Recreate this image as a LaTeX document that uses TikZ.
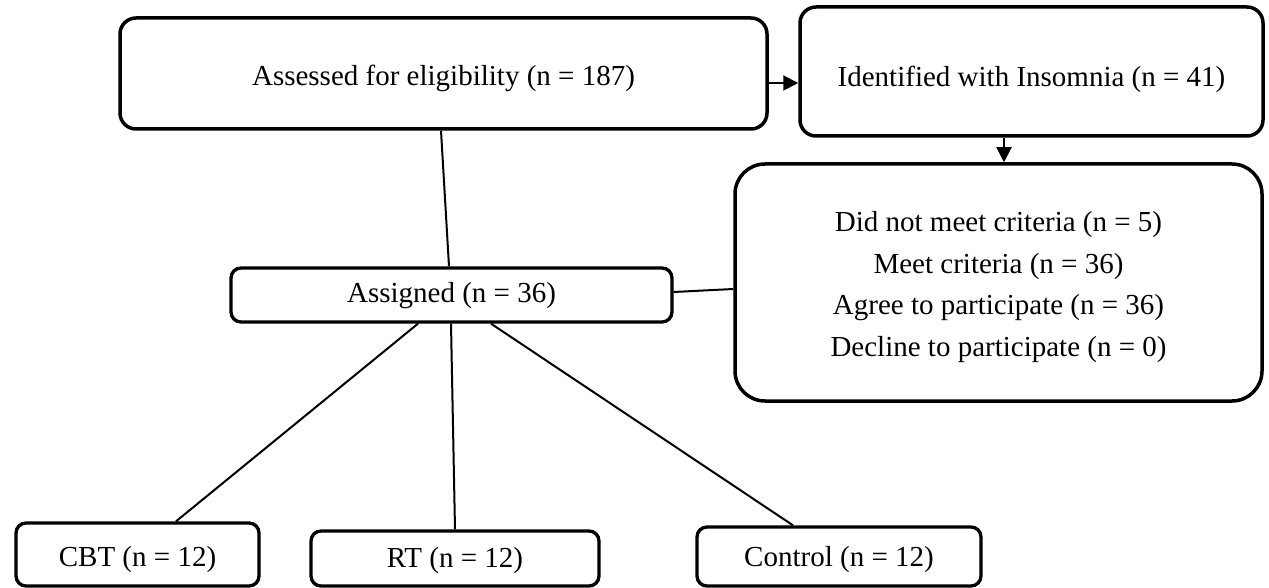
\documentclass[tikz,border=0pt]{standalone}
\usepackage{fontspec}
\setmainfont{Liberation Serif}
\usetikzlibrary{arrows.meta,calc}
\newcommand{\lowr}[2]{\raisebox{-#1}[\height][\depth]{#2}}
\begin{document}
\begin{tikzpicture}[x=1pt,y=-1pt,
  box/.style={draw, line width=3.5pt, rounded corners=16pt, inner sep=0pt, align=center,
    font=\fontsize{29}{41.5}\selectfont},
  smallbox/.style={box, line width=3.3pt, rounded corners=10pt},
  conn/.style={line width=2pt},
  arr/.style={line width=2pt, -{Triangle[length=15pt,width=15pt]}}]
\useasboundingbox (0,0) rectangle (1269,588);
\node[box, minimum width=647pt, minimum height=111pt] (A) at (443.5,73.5)
  {\lowr{5pt}{Assessed for eligibility (n = 187)}};
\node[box, minimum width=463pt, minimum height=129pt] (B) at (1031.5,71.5)
  {\lowr{8pt}{Identified with Insomnia (n = 41)}};
\node[box, rounded corners=30pt, minimum width=527pt, minimum height=237pt] (C) at (998.5,282.5)
  {\lowr{3pt}{\begin{tabular}{@{}c@{}}Did not meet criteria (n = 5)\\Meet criteria (n = 36)\\Agree to participate (n = 36)\\Decline to participate (n = 0)\end{tabular}}};
\node[smallbox, minimum width=441pt, minimum height=54pt] (D) at (451.5,295)
  {\lowr{1pt}{Assigned (n = 36)}};
\node[smallbox, minimum width=243pt, minimum height=63pt] (E) at (137.5,554.5)
  {\lowr{5pt}{CBT (n = 12)}};
\node[smallbox, minimum width=288pt, minimum height=55pt] (F) at (455,558.5)
  {\lowr{2pt}{RT (n = 12)}};
\node[smallbox, minimum width=284pt, minimum height=59pt] (G) at (839,556.5)
  {\lowr{3pt}{Control (n = 12)}};
\draw[arr] ([yshift=-9.5pt]A.east) -- ([yshift=-11.5pt]B.west);
\draw[arr] ([xshift=-27.5pt]B.south) -- ([xshift=5.5pt]C.north);
\draw[conn] ([xshift=-2.5pt]A.south) -- ([xshift=-2.5pt]D.north);
\draw[conn] ([yshift=3pt]D.east) -- ([yshift=-6.5pt]C.west);
\draw[conn] ([xshift=-33.5pt]D.south) -- ([xshift=38.5pt]E.north);
\draw[conn] ([xshift=-0.5pt]D.south) -- (F.north);
\draw[conn] ([xshift=39.5pt]D.south) -- ([xshift=-46pt]G.north);
\end{tikzpicture}
\end{document}
